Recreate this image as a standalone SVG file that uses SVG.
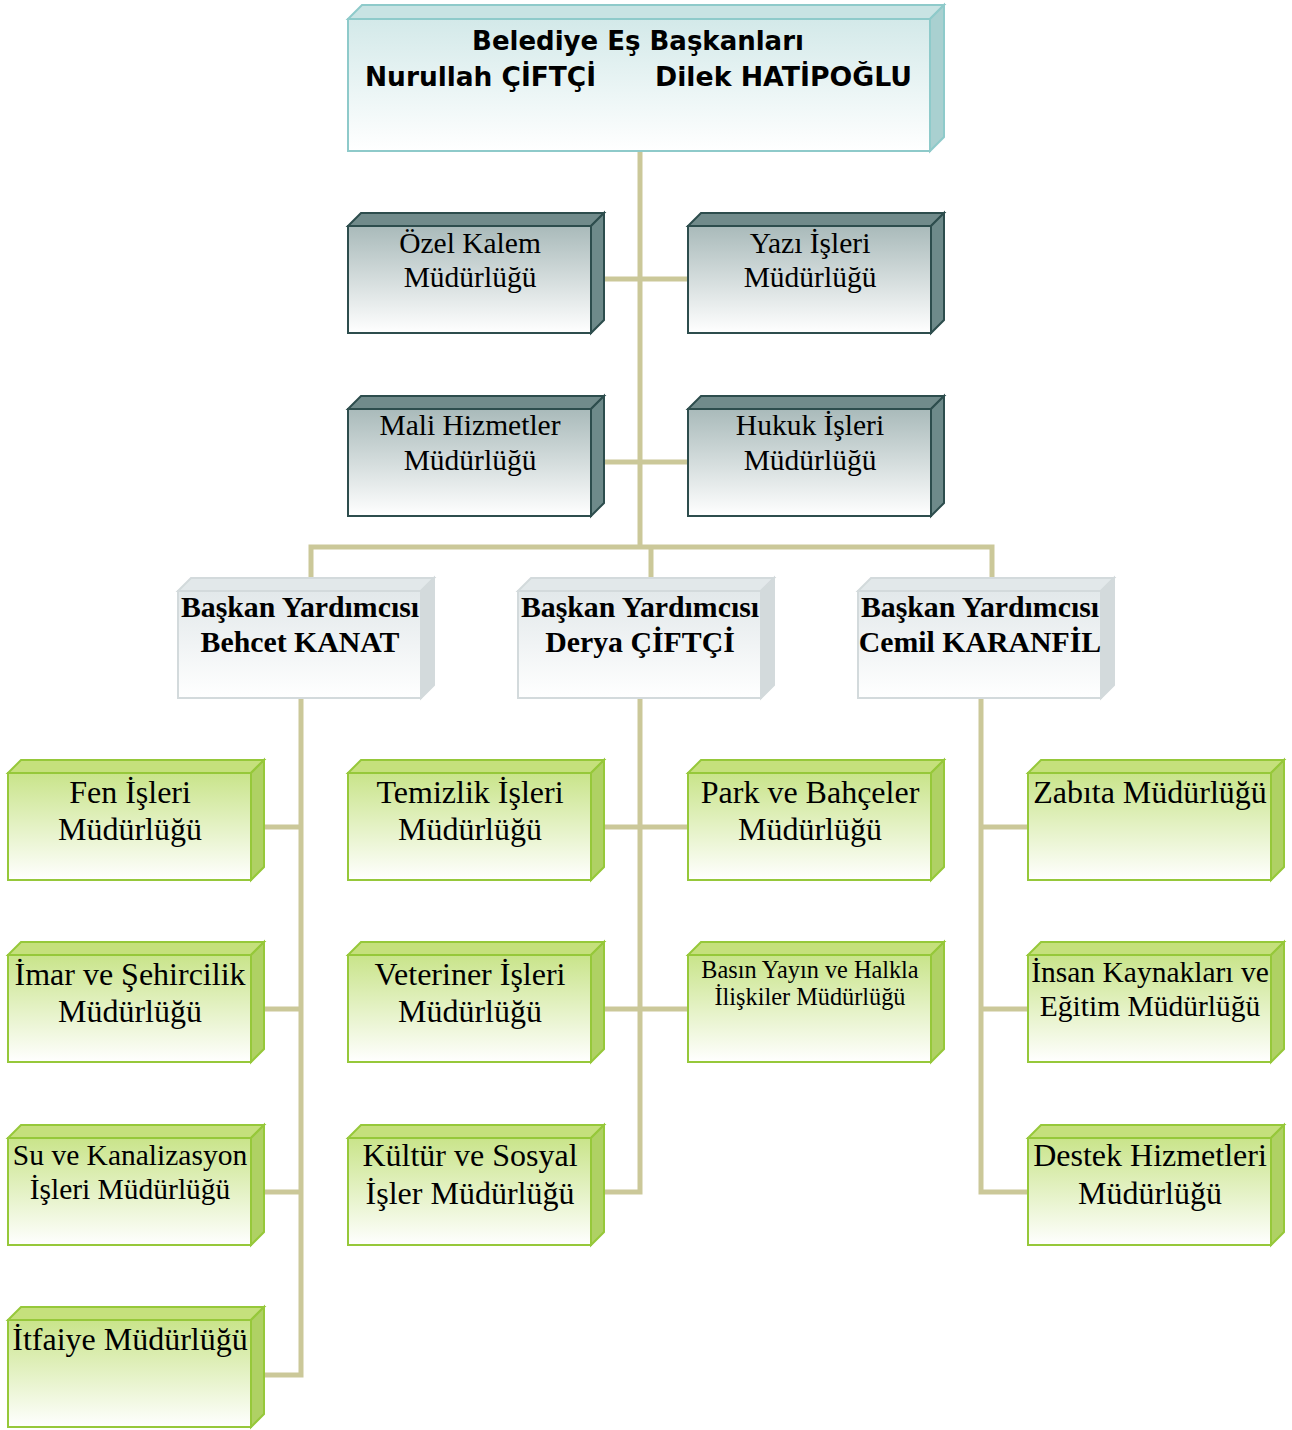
<svg xmlns="http://www.w3.org/2000/svg" width="1292" height="1430" viewBox="0 0 1292 1430">
<defs>
<linearGradient id="gTeal" x1="0" y1="0" x2="0" y2="1"><stop offset="0" stop-color="#d3e9e9"/><stop offset="1" stop-color="#ffffff"/></linearGradient>
<linearGradient id="gGray" x1="0" y1="0" x2="0" y2="1"><stop offset="0" stop-color="#a9baba"/><stop offset="1" stop-color="#ffffff"/></linearGradient>
<linearGradient id="gGreen" x1="0" y1="0" x2="0" y2="1"><stop offset="0" stop-color="#c9e48a"/><stop offset="1" stop-color="#ffffff"/></linearGradient>
<linearGradient id="gDep" x1="0" y1="0" x2="0" y2="1"><stop offset="0" stop-color="#e2e8ea"/><stop offset="1" stop-color="#ffffff"/></linearGradient>
<style>
.conn{fill:none;stroke:#cbc899;stroke-width:5}
.teal .f{fill:url(#gTeal);stroke:#8ecaca;stroke-width:2}
.teal .t{fill:#c8e3e3;stroke:#8ecaca;stroke-width:2}
.teal .r{fill:#a9d0d0;stroke:#8ecaca;stroke-width:2}
.gray .f{fill:url(#gGray);stroke:#2d4d4d;stroke-width:2}
.gray .t{fill:#718b8b;stroke:#2d4d4d;stroke-width:2}
.gray .r{fill:#6e8a8a;stroke:#2d4d4d;stroke-width:2}
.green .f{fill:url(#gGreen);stroke:#96c83a;stroke-width:2}
.green .t{fill:#c5e07c;stroke:#96c83a;stroke-width:2}
.green .r{fill:#afd164;stroke:#96c83a;stroke-width:2}
.dep .f{fill:url(#gDep);stroke:#d3dadc;stroke-width:2}
.dep .t{fill:#e2e8ea;stroke:#d3dadc;stroke-width:2}
.dep .r{fill:#d3dadc;stroke:#d3dadc;stroke-width:2}
text{font-family:"Liberation Serif","Times New Roman",serif;fill:#000;text-anchor:middle}
.s28{font-size:32px}
.s26{font-size:29.5px}
.s20{font-size:24.3px}
.b{font-weight:bold;font-size:29.8px}
.top{font-family:"DejaVu Sans","Liberation Sans",sans-serif;font-weight:bold;font-size:26px}
</style>
</defs>
<g id="connectors">
<path class="conn" d="M640 151 V547"/>
<path class="conn" d="M591 279 H688"/>
<path class="conn" d="M591 462 H688"/>
<path class="conn" d="M311 578 V547 H992 V578"/>
<path class="conn" d="M651 547 V578"/>
<path class="conn" d="M301 698 V1375 H251"/>
<path class="conn" d="M251 827 H301 M251 1009 H301 M251 1192 H301"/>
<path class="conn" d="M640 698 V1192 H591"/>
<path class="conn" d="M591 827 H688 M591 1009 H688"/>
<path class="conn" d="M981 698 V1192 H1028 M981 827 H1028 M981 1009 H1028"/>
</g>
<g id="baskanlar" class="teal">
<polygon class="t" points="348,19 362,5 944,5 930,19"/>
<polygon class="r" points="930,19 944,5 944,137 930,151"/>
<rect class="f" x="348" y="19" width="582" height="132"/>
<text class="top" x="638" y="50">Belediye Eş Başkanları</text>
<text class="top" x="365" y="86" style="text-anchor:start" textLength="231" lengthAdjust="spacingAndGlyphs">Nurullah ÇİFTÇİ</text>
<text class="top" x="655" y="86" style="text-anchor:start" textLength="257" lengthAdjust="spacingAndGlyphs">Dilek HATİPOĞLU</text>
</g>
<g id="ozel-kalem" class="gray">
<polygon class="t" points="348,226 361,213 604,213 591,226"/>
<polygon class="r" points="591,226 604,213 604,320 591,333"/>
<rect class="f" x="348" y="226" width="243" height="107"/>
<text class="s26" x="470" y="253">Özel Kalem</text>
<text class="s26" x="470" y="287">Müdürlüğü</text>
</g>
<g id="yazi-isleri" class="gray">
<polygon class="t" points="688,226 701,213 944,213 931,226"/>
<polygon class="r" points="931,226 944,213 944,320 931,333"/>
<rect class="f" x="688" y="226" width="243" height="107"/>
<text class="s26" x="810" y="253">Yazı İşleri</text>
<text class="s26" x="810" y="287">Müdürlüğü</text>
</g>
<g id="mali-hizmetler" class="gray">
<polygon class="t" points="348,409 361,396 604,396 591,409"/>
<polygon class="r" points="591,409 604,396 604,503 591,516"/>
<rect class="f" x="348" y="409" width="243" height="107"/>
<text class="s26" x="470" y="435">Mali Hizmetler</text>
<text class="s26" x="470" y="470">Müdürlüğü</text>
</g>
<g id="hukuk-isleri" class="gray">
<polygon class="t" points="688,409 701,396 944,396 931,409"/>
<polygon class="r" points="931,409 944,396 944,503 931,516"/>
<rect class="f" x="688" y="409" width="243" height="107"/>
<text class="s26" x="810" y="435">Hukuk İşleri</text>
<text class="s26" x="810" y="470">Müdürlüğü</text>
</g>
<g id="by-behcet" class="dep">
<polygon class="t" points="178,591 191,578 434,578 421,591"/>
<polygon class="r" points="421,591 434,578 434,685 421,698"/>
<rect class="f" x="178" y="591" width="243" height="107"/>
<text class="b" x="300" y="617">Başkan Yardımcısı</text>
<text class="b" x="300" y="652">Behcet KANAT</text>
</g>
<g id="by-derya" class="dep">
<polygon class="t" points="518,591 531,578 774,578 761,591"/>
<polygon class="r" points="761,591 774,578 774,685 761,698"/>
<rect class="f" x="518" y="591" width="243" height="107"/>
<text class="b" x="640" y="617">Başkan Yardımcısı</text>
<text class="b" x="640" y="652">Derya ÇİFTÇİ</text>
</g>
<g id="by-cemil" class="dep">
<polygon class="t" points="858,591 871,578 1114,578 1101,591"/>
<polygon class="r" points="1101,591 1114,578 1114,685 1101,698"/>
<rect class="f" x="858" y="591" width="243" height="107"/>
<text class="b" x="980" y="617">Başkan Yardımcısı</text>
<text class="b" x="980" y="652">Cemil KARANFİL</text>
</g>
<g id="fen-isleri" class="green">
<polygon class="t" points="8,773 21,760 264,760 251,773"/>
<polygon class="r" points="251,773 264,760 264,867 251,880"/>
<rect class="f" x="8" y="773" width="243" height="107"/>
<text class="s28" x="130" y="803">Fen İşleri</text>
<text class="s28" x="130" y="840">Müdürlüğü</text>
</g>
<g id="imar" class="green">
<polygon class="t" points="8,955 21,942 264,942 251,955"/>
<polygon class="r" points="251,955 264,942 264,1049 251,1062"/>
<rect class="f" x="8" y="955" width="243" height="107"/>
<text class="s28" x="130" y="985">İmar ve Şehircilik</text>
<text class="s28" x="130" y="1022">Müdürlüğü</text>
</g>
<g id="su-kanalizasyon" class="green">
<polygon class="t" points="8,1138 21,1125 264,1125 251,1138"/>
<polygon class="r" points="251,1138 264,1125 264,1232 251,1245"/>
<rect class="f" x="8" y="1138" width="243" height="107"/>
<text class="s26" x="130" y="1165">Su ve Kanalizasyon</text>
<text class="s26" x="130" y="1199">İşleri Müdürlüğü</text>
</g>
<g id="itfaiye" class="green">
<polygon class="t" points="8,1320 21,1307 264,1307 251,1320"/>
<polygon class="r" points="251,1320 264,1307 264,1414 251,1427"/>
<rect class="f" x="8" y="1320" width="243" height="107"/>
<text class="s28" x="130" y="1350">İtfaiye Müdürlüğü</text>
</g>
<g id="temizlik" class="green">
<polygon class="t" points="348,773 361,760 604,760 591,773"/>
<polygon class="r" points="591,773 604,760 604,867 591,880"/>
<rect class="f" x="348" y="773" width="243" height="107"/>
<text class="s28" x="470" y="803">Temizlik İşleri</text>
<text class="s28" x="470" y="840">Müdürlüğü</text>
</g>
<g id="veteriner" class="green">
<polygon class="t" points="348,955 361,942 604,942 591,955"/>
<polygon class="r" points="591,955 604,942 604,1049 591,1062"/>
<rect class="f" x="348" y="955" width="243" height="107"/>
<text class="s28" x="470" y="985">Veteriner İşleri</text>
<text class="s28" x="470" y="1022">Müdürlüğü</text>
</g>
<g id="kultur" class="green">
<polygon class="t" points="348,1138 361,1125 604,1125 591,1138"/>
<polygon class="r" points="591,1138 604,1125 604,1232 591,1245"/>
<rect class="f" x="348" y="1138" width="243" height="107"/>
<text class="s28" x="470" y="1166">Kültür ve Sosyal</text>
<text class="s28" x="470" y="1204">İşler Müdürlüğü</text>
</g>
<g id="park-bahceler" class="green">
<polygon class="t" points="688,773 701,760 944,760 931,773"/>
<polygon class="r" points="931,773 944,760 944,867 931,880"/>
<rect class="f" x="688" y="773" width="243" height="107"/>
<text class="s28" x="810" y="803">Park ve Bahçeler</text>
<text class="s28" x="810" y="840">Müdürlüğü</text>
</g>
<g id="basin-yayin" class="green">
<polygon class="t" points="688,955 701,942 944,942 931,955"/>
<polygon class="r" points="931,955 944,942 944,1049 931,1062"/>
<rect class="f" x="688" y="955" width="243" height="107"/>
<text class="s20" x="810" y="978">Basın Yayın ve Halkla</text>
<text class="s20" x="810" y="1005">İlişkiler Müdürlüğü</text>
</g>
<g id="zabita" class="green">
<polygon class="t" points="1028,773 1041,760 1284,760 1271,773"/>
<polygon class="r" points="1271,773 1284,760 1284,867 1271,880"/>
<rect class="f" x="1028" y="773" width="243" height="107"/>
<text class="s28" x="1150" y="803">Zabıta Müdürlüğü</text>
</g>
<g id="insan-kaynaklari" class="green">
<polygon class="t" points="1028,955 1041,942 1284,942 1271,955"/>
<polygon class="r" points="1271,955 1284,942 1284,1049 1271,1062"/>
<rect class="f" x="1028" y="955" width="243" height="107"/>
<text class="s26" x="1150" y="982">İnsan Kaynakları ve</text>
<text class="s26" x="1150" y="1016">Eğitim Müdürlüğü</text>
</g>
<g id="destek" class="green">
<polygon class="t" points="1028,1138 1041,1125 1284,1125 1271,1138"/>
<polygon class="r" points="1271,1138 1284,1125 1284,1232 1271,1245"/>
<rect class="f" x="1028" y="1138" width="243" height="107"/>
<text class="s28" x="1150" y="1166">Destek Hizmetleri</text>
<text class="s28" x="1150" y="1204">Müdürlüğü</text>
</g>
</svg>
